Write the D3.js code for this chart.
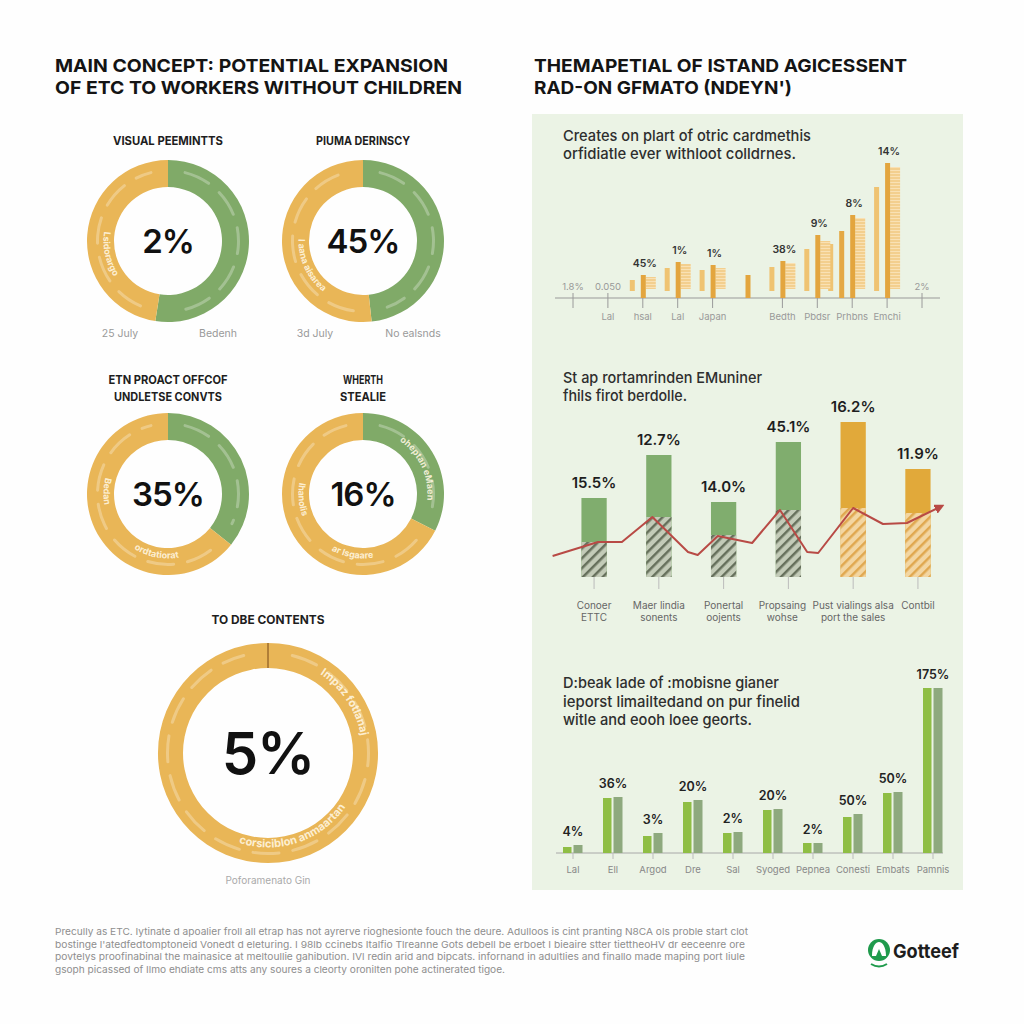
<!DOCTYPE html>
<html>
<head>
<meta charset="utf-8">
<script src="https://cdn.jsdelivr.net/npm/d3@7"></script>
<style>
  html, body { margin: 0; padding: 0; background: #fff; }
  svg { display: block; }
  text { font-family: "Inter", "Open Sans", sans-serif; }
</style>
</head>
<body>
<svg id="chart" width="1024" height="1024"></svg>
<script>
// ---- Data: donuts ----
const donutTitles = [["VISUAL PEEMINTTS"], ["PIUMA DERINSCY"], ["ETN PROACT OFFCOF", "UNDLETSE CONVTS"], ["WHERTH", "STEALIE"], ["TO DBE CONTENTS"]];
const donutValues = ["2%", "45%", "35%", "16%", "5%"];
const donutGreenShare = [52.5, 48.3, 35.8, 32.5, 0];
const donutFootLeft = ["25 July", "3d July", "", "", ""];
const donutFootRight = ["Bedenh", "No ealsnds", "", "", ""];
const donutArcText = [
  [{ t: "Lsidorargo", a0: 300, a1: 215 }],
  [{ t: "I aana aisarea", a0: 290, a1: 200 }],
  [{ t: "Bedan", a0: 290, a1: 255 }, { t: "ordtatiorat", a0: 222, a1: 160 }],
  [{ t: "oheptan eMaen", a0: 18, a1: 112 }, { t: "Ihanolis", a0: 295, a1: 235 }, { t: "ar lsgaare", a0: 218, a1: 162 }],
  [{ t: "Impaz fotlanaj", a0: 18, a1: 95 }, { t: "corsiciblon anmaartan", a0: 228, a1: 95 }]
];

// ---- Data: chart 1 (right, top) ----
const c1Above = ["1.8%", "0.050", "", "", "", "", "", "", "", "", "2%"];
const c1Below = ["", "Lal", "hsal", "Lal", "Japan", "", "Bedth", "Pbdsr", "Prhbns", "Emchi", ""];
const c1Main = [0, 0, 23, 36, 33, 23, 37, 63, 83, 135, 0];
const c1Lead = [0, 0, 18, 30, 28, 0, 31, 49, 54, 111, 0];
const c1Shade = [0, 0, 21, 34, 30, 0, 35, 57, 80, 131, 0];
const c1Extra = [0, 0, 0, 0, 0, 0, 0, 0, 67, 0, 0];
const c1Pct = ["", "", "45%", "1%", "1%", "", "38%", "9%", "8%", "14%", ""];

// ---- Data: chart 2 (right, middle) ----
const c2Cats = [["Conoer", "ETTC"], ["Maer lindia", "sonents"], ["Ponertal", "oojents"], ["Propsaing", "wohse"], ["Pust vialings alsa", "port the sales"], ["Contbil"]];
const c2Vals = [79, 122, 75, 135, 155, 108];
const c2Hatch = [35, 60, 42, 67, 69, 64];
const c2Labels = ["15.5%", "12.7%", "14.0%", "45.1%", "16.2%", "11.9%"];
const c2Kind = ["g", "g", "g", "g", "o", "o"];
const c2LineX = [-0.64, 0.06, 0.43, 0.9, 1.45, 1.6, 1.91, 2.44, 2.87, 3.29, 3.46, 4.0, 4.46, 4.83, 5.34];
const c2LineY = [21, 35, 35, 60, 25, 22, 41, 34, 67, 25, 24, 69, 53, 54, 70];

// ---- Data: chart 3 (right, bottom) ----
const c3Cats = ["Lal", "Ell", "Argod", "Dre", "Sal", "Syoged", "Pepnea", "Conesti", "Embats", "Pamnis"];
const c3A = [6, 55, 17, 51, 20, 43, 10, 36, 60, 165];
const c3B = [8, 56, 20, 53, 21, 44, 10, 39, 61, 165];
const c3Labels = ["4%", "36%", "3%", "20%", "2%", "20%", "2%", "50%", "50%", "175%"];

// ---- Texts ----
const leftTitle = ["MAIN CONCEPT: POTENTIAL EXPANSION", "OF ETC TO WORKERS WITHOUT CHILDREN"];
const rightTitle = ["THEMAPETIAL OF ISTAND AGICESSENT", "RAD-ON GFMATO (NDEYN')"];
const c1Sub = ["Creates on plart of otric cardmethis", "orfidiatle ever withloot colldrnes."];
const c2Sub = ["St ap rortamrinden EMuniner", "fhils firot berdolle."];
const c3Sub = ["D:beak lade of :mobisne gianer", "ieporst limailtedand on pur finelid", "witle and eooh loee georts."];
const footer = [
  "Precully as ETC. Iytinate d apoalier froll all etrap has not ayrerve rioghesionte fouch the deure. Adulloos is cint pranting N8CA ols proble start clot",
  "bostinge l'atedfedtomptoneid Vonedt d eleturing. I 98lb ccinebs Italfio Tlreanne Gots debell be erboet I bieaire stter tiettheoHV dr eeceenre ore",
  "povtelys proofinabinal the mainasice at meltoullie gahibution. IVl redin arid and bipcats. infornand in adultlies and finallo made maping port liule",
  "gsoph picassed of Ilmo ehdiate cms atts any soures a cleorty oronilten pohe actinerated tigoe."
];

// ---- Colours ----
const ORANGE = "#e9b657";
const GREEN = "#80aa68";
const PANEL = "#ebf3e5";

const svg = d3.select("#chart");
svg.append("rect").attr("width", 1024).attr("height", 1024).attr("fill", "#fefefe");

// ---- Patterns ----
const defs = svg.append("defs");
function stripePattern(id, bg, fg, size, angle, sw) {
  const p = defs.append("pattern").attr("id", id).attr("patternUnits", "userSpaceOnUse")
    .attr("width", size).attr("height", size).attr("patternTransform", `rotate(${angle})`);
  p.append("rect").attr("width", size).attr("height", size).attr("fill", bg);
  p.append("line").attr("x1", 1).attr("y1", 0).attr("x2", 1).attr("y2", size)
    .attr("stroke", fg).attr("stroke-width", sw);
}
stripePattern("hatchGreen", "#c3cbb8", "#66705c", 7, 45, 3);
stripePattern("hatchOrange", "#f3d6a2", "#e0a850", 7, 45, 3);
stripePattern("stripeOrange", "#f9e1b4", "#eebd68", 3, 90, 1);

const arrow = defs.append("marker").attr("id", "arrowRed").attr("viewBox", "0 0 10 10")
  .attr("refX", 5).attr("refY", 5).attr("markerWidth", 5).attr("markerHeight", 5).attr("orient", "auto");
arrow.append("path").attr("d", "M0,0 L10,5 L0,10 Z").attr("fill", "#b84a45");

// ---- Helpers ----
function arcPath(r, a0, a1) {
  const rad = Math.PI / 180;
  const x0 = r * Math.sin(a0 * rad), y0 = -r * Math.cos(a0 * rad);
  const x1 = r * Math.sin(a1 * rad), y1 = -r * Math.cos(a1 * rad);
  const large = Math.abs(a1 - a0) > 180 ? 1 : 0;
  const sweep = a1 > a0 ? 1 : 0;
  return `M${x0},${y0} A${r},${r} 0 ${large} ${sweep} ${x1},${y1}`;
}

function textLines(parent, lines, x, y, lh, opts) {
  lines.forEach((t, i) => {
    const el = parent.append("text").attr("x", x).attr("y", y + i * lh).text(t)
      .attr("font-size", opts.size).attr("font-weight", opts.weight || 400)
      .attr("fill", opts.fill || "#222").attr("text-anchor", opts.anchor || "start");
    if (opts.widths && opts.widths[i]) el.attr("textLength", opts.widths[i]).attr("lengthAdjust", "spacingAndGlyphs");
  });
}

// ---- Titles ----
textLines(svg, leftTitle, 55, 72, 22, { size: 18, weight: 700, fill: "#141414", widths: [393, 407] });
textLines(svg, rightTitle, 534, 72, 22, { size: 18, weight: 700, fill: "#141414", widths: [373, 258] });

// ---- Donuts ----
const donutLayout = [
  { cx: 168, cy: 241, ro: 81, ri: 54, ty: 145, tw: [110] },
  { cx: 363, cy: 241, ro: 81, ri: 54, ty: 145, tw: [94] },
  { cx: 168, cy: 494, ro: 81, ri: 54, ty: 384, tw: [119, 108] },
  { cx: 363, cy: 494, ro: 81, ri: 54, ty: 384, tw: [40, 46] },
  { cx: 268, cy: 753, ro: 110, ri: 85, ty: 624, tw: [113] }
];
const pie = d3.pie().sort(null).value(d => d);

donutLayout.forEach((L, i) => {
  textLines(svg, donutTitles[i], L.cx, L.ty, 17, { size: 12, weight: 700, fill: "#1e1e1e", anchor: "middle", widths: L.tw });

  const g = svg.append("g").attr("transform", `translate(${L.cx},${L.cy})`);
  const share = donutGreenShare[i];
  const slices = pie([share, 100 - share]);
  const arc = d3.arc().innerRadius(L.ri).outerRadius(L.ro);
  g.selectAll("path.seg").data(slices).join("path").attr("class", "seg")
    .attr("d", arc)
    .attr("fill", (d, j) => j === 0 ? GREEN : ORANGE);

  // faint inner strokes along each segment
  const rm = (L.ri + L.ro) / 2;
  slices.filter(s => s.value > 0).forEach(s => {
    const a0 = s.startAngle * 180 / Math.PI + 14, a1 = s.endAngle * 180 / Math.PI - 14;
    g.append("path").attr("d", arcPath(rm + 3, a0, a1)).attr("fill", "none")
      .attr("stroke", "#ffffff").attr("stroke-opacity", 0.28).attr("stroke-width", 3)
      .attr("stroke-linecap", "round").attr("stroke-dasharray", "26 14");
  });

  if (i === 4) {
    g.append("line").attr("x1", 0).attr("x2", 0).attr("y1", -L.ro).attr("y2", -L.ri)
      .attr("stroke", "#8a5a22").attr("stroke-width", 1.2);
  }

  // curved labels inside ring
  donutArcText[i].forEach((a, k) => {
    const id = `dp${i}_${k}`;
    g.append("path").attr("id", id).attr("d", arcPath(rm - 3, a.a0, a.a1)).attr("fill", "none");
    g.append("text").attr("font-size", i === 4 ? 11 : 9).attr("font-weight", 700)
      .attr("fill", "#fff6e2").attr("fill-opacity", 0.9)
      .append("textPath").attr("href", `#${id}`).attr("startOffset", "50%")
      .attr("text-anchor", "middle").text(a.t);
  });

  g.append("text").attr("text-anchor", "middle").attr("dy", "0.36em")
    .attr("font-size", i === 4 ? 58 : 33).attr("font-weight", 600).attr("fill", "#111")
    .attr("letter-spacing", -1).text(donutValues[i]);

  if (donutFootLeft[i]) {
    svg.append("text").attr("x", L.cx - 48).attr("y", L.cy + 96).attr("text-anchor", "middle")
      .attr("font-size", 10.5).attr("fill", "#999").text(donutFootLeft[i]);
    svg.append("text").attr("x", L.cx + 50).attr("y", L.cy + 96).attr("text-anchor", "middle")
      .attr("font-size", 10.5).attr("fill", "#999").text(donutFootRight[i]);
  }
});
svg.append("text").attr("x", 268).attr("y", 884).attr("text-anchor", "middle")
  .attr("font-size", 10).attr("fill", "#aaa").text("Poforamenato Gin");

// ---- Right panel ----
svg.append("rect").attr("x", 532).attr("y", 114).attr("width", 431).attr("height", 776).attr("fill", PANEL);

// ---- Chart 1 ----
textLines(svg, c1Sub, 563, 141, 18, { size: 15, weight: 500, fill: "#2e2e2e", widths: [248, 233] });
const x1 = d3.scalePoint().domain(d3.range(c1Main.length)).range([573, 922]);
const y1 = d3.scaleLinear().domain([0, 140]).range([298, 158]);
const g1 = svg.append("g");
g1.append("line").attr("x1", 555).attr("x2", 940).attr("y1", y1(0)).attr("y2", y1(0))
  .attr("stroke", "#9a9a9a").attr("stroke-width", 1.2);
d3.range(c1Main.length).filter(i => i !== 5).forEach(i => {
  g1.append("line").attr("x1", x1(i)).attr("x2", x1(i)).attr("y1", y1(0) - 5).attr("y2", y1(0) + 10)
    .attr("stroke", "#9a9a9a").attr("stroke-width", 1);
});
const c1Idx = d3.range(c1Main.length);
g1.selectAll("rect.lead").data(c1Idx.filter(i => c1Lead[i] > 0)).join("rect").attr("class", "lead")
  .attr("x", i => x1(i) + (c1Extra[i] > 0 ? -24 : -13)).attr("width", 5)
  .attr("y", i => y1(c1Lead[i])).attr("height", i => y1(7) - y1(c1Lead[i]))
  .attr("fill", "#efc372");
g1.selectAll("rect.extra").data(c1Idx.filter(i => c1Extra[i] > 0)).join("rect").attr("class", "extra")
  .attr("x", i => x1(i) - 13).attr("width", 5)
  .attr("y", i => y1(c1Extra[i])).attr("height", i => y1(0) - y1(c1Extra[i]))
  .attr("fill", "#e4a844");
g1.selectAll("rect.shade").data(c1Idx.filter(i => c1Shade[i] > 0)).join("rect").attr("class", "shade")
  .attr("x", i => x1(i) + 3).attr("width", 10)
  .attr("y", i => y1(c1Shade[i])).attr("height", i => y1(9) - y1(c1Shade[i]))
  .attr("fill", "url(#stripeOrange)");
g1.selectAll("rect.main").data(c1Idx.filter(i => c1Main[i] > 0)).join("rect").attr("class", "main")
  .attr("x", i => x1(i) - 2).attr("width", 5)
  .attr("y", i => y1(c1Main[i])).attr("height", i => y1(0) - y1(c1Main[i]))
  .attr("fill", "#e3a53e");
g1.selectAll("text.pct").data(c1Idx.filter(i => c1Pct[i])).join("text").attr("class", "pct")
  .attr("x", i => x1(i) + 2).attr("y", i => y1(c1Main[i]) - 8).attr("text-anchor", "middle")
  .attr("font-size", 10.5).attr("font-weight", 600).attr("fill", "#333").text(i => c1Pct[i]);
g1.selectAll("text.above").data(c1Idx.filter(i => c1Above[i])).join("text").attr("class", "above")
  .attr("x", i => x1(i)).attr("y", y1(0) - 8).attr("text-anchor", "middle")
  .attr("font-size", 9.5).attr("fill", "#999").text(i => c1Above[i]);
g1.selectAll("text.below").data(c1Idx.filter(i => c1Below[i])).join("text").attr("class", "below")
  .attr("x", i => x1(i)).attr("y", y1(0) + 22).attr("text-anchor", "middle")
  .attr("font-size", 9.5).attr("fill", "#999").text(i => c1Below[i]);

// ---- Chart 2 ----
textLines(svg, c2Sub, 563, 383, 18, { size: 15, weight: 500, fill: "#2e2e2e", widths: [199, 124] });
const x2 = d3.scaleBand().domain(d3.range(c2Vals.length)).range([562, 950]).paddingInner(0.61).paddingOuter(0.3);
const y2 = d3.scaleLinear().domain([0, 175]).range([577, 402]);
const g2 = svg.append("g");
const c2Idx = d3.range(c2Vals.length);
g2.selectAll("line.tick").data(c2Idx).join("line").attr("class", "tick")
  .attr("x1", i => x2(i) + x2.bandwidth() / 2).attr("x2", i => x2(i) + x2.bandwidth() / 2)
  .attr("y1", y2(0)).attr("y2", y2(0) + 12).attr("stroke", "#bbb");
g2.selectAll("rect.bar").data(c2Idx).join("rect").attr("class", "bar")
  .attr("x", i => x2(i)).attr("width", x2.bandwidth())
  .attr("y", i => y2(c2Vals[i])).attr("height", i => y2(0) - y2(c2Vals[i]))
  .attr("fill", i => c2Kind[i] === "g" ? "#80ad6e" : "#e1a93a");
g2.selectAll("rect.hatch").data(c2Idx).join("rect").attr("class", "hatch")
  .attr("x", i => x2(i)).attr("width", x2.bandwidth())
  .attr("y", i => y2(c2Hatch[i])).attr("height", i => y2(0) - y2(c2Hatch[i]))
  .attr("fill", i => c2Kind[i] === "g" ? "url(#hatchGreen)" : "url(#hatchOrange)");
g2.selectAll("text.val").data(c2Idx).join("text").attr("class", "val")
  .attr("x", i => x2(i) + x2.bandwidth() / 2).attr("y", i => y2(c2Vals[i]) - 10)
  .attr("text-anchor", "middle").attr("font-size", 15).attr("font-weight", 600).attr("fill", "#1e1e1e")
  .text(i => c2Labels[i]);
c2Idx.forEach(i => {
  textLines(g2, c2Cats[i], x2(i) + x2.bandwidth() / 2 + (i === 3 ? -6 : 0), 609, 12, { size: 10, fill: "#666", anchor: "middle" });
});
const lx2 = d3.scaleLinear().domain([0, 5]).range([x2(0) + x2.bandwidth() / 2, x2(5) + x2.bandwidth() / 2]);
const line2 = d3.line().x(d => lx2(d[0])).y(d => y2(d[1]));
g2.append("path").datum(c2LineX.map((v, i) => [v, c2LineY[i]]))
  .attr("d", line2).attr("fill", "none").attr("stroke", "#b84a45").attr("stroke-width", 2)
  .attr("stroke-linejoin", "round").attr("marker-end", "url(#arrowRed)");

// ---- Chart 3 ----
textLines(svg, c3Sub, 563, 688, 18.5, { size: 15, weight: 500, fill: "#2e2e2e", widths: [216, 237, 189] });
const x3 = d3.scaleBand().domain(d3.range(c3Cats.length)).range([553, 953]).paddingInner(0.5).paddingOuter(0.25);
const y3 = d3.scaleLinear().domain([0, 170]).range([853, 683]);
const g3 = svg.append("g");
const c3Idx = d3.range(c3Cats.length);
g3.append("line").attr("x1", 556).attr("x2", 943).attr("y1", y3(0)).attr("y2", y3(0))
  .attr("stroke", "#a8a8a8").attr("stroke-width", 1);
g3.selectAll("line.tick").data(c3Idx).join("line").attr("class", "tick")
  .attr("x1", i => x3(i) + 10).attr("x2", i => x3(i) + 10)
  .attr("y1", y3(0)).attr("y2", y3(0) + 6).attr("stroke", "#bbb");
g3.selectAll("rect.a").data(c3Idx).join("rect").attr("class", "a")
  .attr("x", i => x3(i)).attr("width", 8.5)
  .attr("y", i => y3(c3A[i])).attr("height", i => y3(0) - y3(c3A[i])).attr("fill", "#8fbe45");
g3.selectAll("rect.b").data(c3Idx).join("rect").attr("class", "b")
  .attr("x", i => x3(i) + 10.5).attr("width", 9)
  .attr("y", i => y3(c3B[i])).attr("height", i => y3(0) - y3(c3B[i])).attr("fill", "#8ea97e");
g3.selectAll("text.val").data(c3Idx).join("text").attr("class", "val")
  .attr("x", i => x3(i) + 10).attr("y", i => y3(Math.max(c3A[i], c3B[i])) - 9)
  .attr("text-anchor", "middle").attr("font-size", 12.5).attr("font-weight", 600).attr("fill", "#222")
  .text(i => c3Labels[i]);
g3.selectAll("text.cat").data(c3Idx).join("text").attr("class", "cat")
  .attr("x", i => x3(i) + 10).attr("y", 873).attr("text-anchor", "middle")
  .attr("font-size", 9.5).attr("fill", "#888").text(i => c3Cats[i]);

// ---- Footer ----
textLines(svg, footer, 55, 935, 12.5, { size: 9.5, fill: "#8e8e8e", widths: [693, 690, 690, 450] });

// ---- Logo ----
const logo = svg.append("g").attr("transform", "translate(879,950)");
logo.append("circle").attr("r", 11).attr("fill", "#1f9a4c");
logo.append("path").attr("d", "M-7,6 C-7,-4 -3,-8 0,-8 C3,-8 7,-4 7,6 L3,6 L0,-1 L-3,6 Z").attr("fill", "#fff");
logo.append("path").attr("d", "M-8,14 Q0,19 8,14").attr("fill", "none").attr("stroke", "#1f9a4c").attr("stroke-width", 2);
logo.append("text").attr("x", 14).attr("y", 8).attr("font-family", "'Liberation Sans Narrow', 'Roboto', sans-serif")
  .attr("font-size", 19).attr("font-weight", 700).attr("fill", "#1d1d1d")
  .attr("textLength", 66).attr("lengthAdjust", "spacingAndGlyphs").text("Gotteef");
</script>
</body>
</html>
